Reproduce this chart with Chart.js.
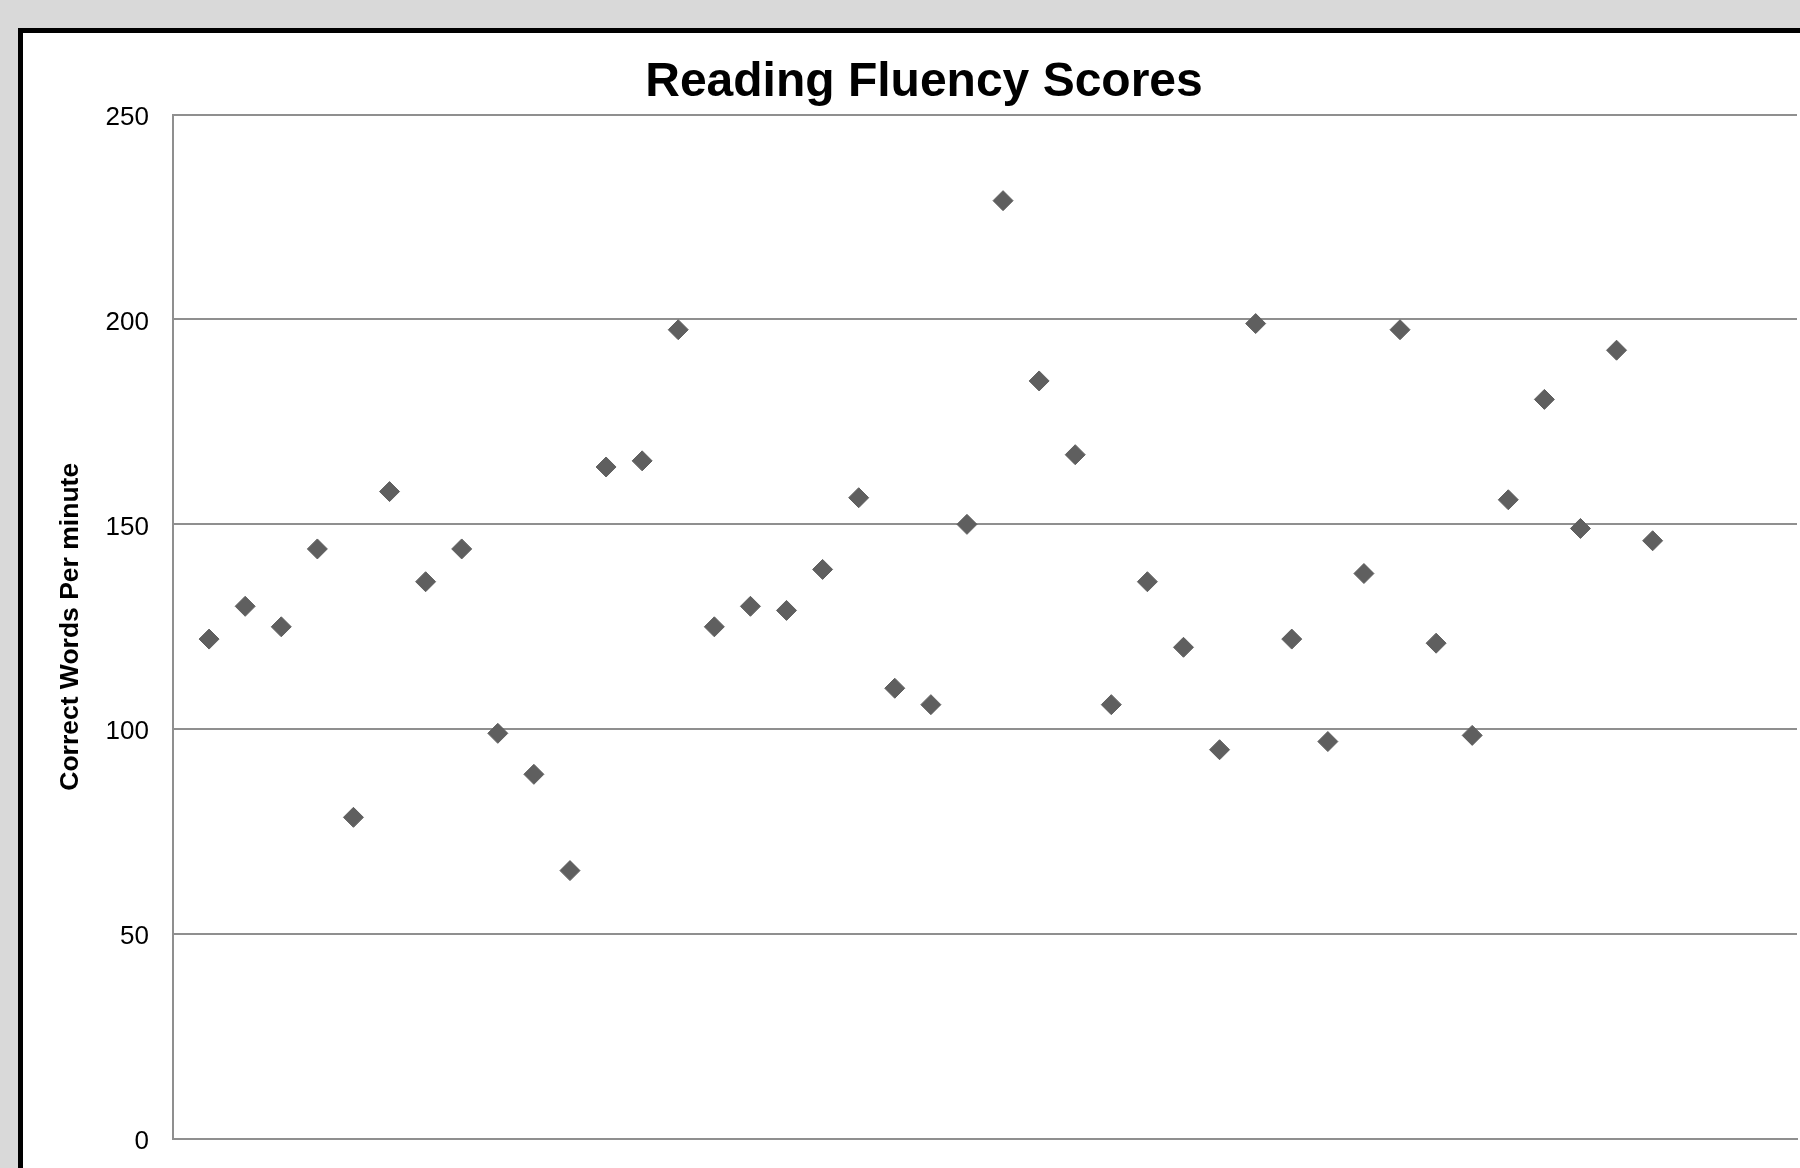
<!DOCTYPE html>
<html>
<head>
<meta charset="utf-8">
<title>Reading Fluency Scores</title>
<script src="https://cdn.jsdelivr.net/npm/chart.js@4/dist/chart.umd.min.js"></script>
<style>
    html, body {
        margin: 0;
        padding: 0;
        width: 1800px;
        height: 1168px;
        overflow: hidden;
        background: #d9d9d9;
    }
    #frame {
        position: absolute;
        left: 18px;
        top: 28px;
        width: 1840px;
        height: 1200px;
        border: 5px solid #000;
        background: #fff;
    }
    #chartBox {
        position: absolute;
        left: 0;
        top: 0;
        width: 1802px;
        height: 1146px;
    }
</style>
</head>
<body>
<div id="frame">
    <div id="chartBox"><canvas id="fluencyChart"></canvas></div>
</div>
<script>
// Student number (x) and correct words per minute (y)
const studentNumbers = [1, 2, 3, 4, 5, 6, 7, 8, 9, 10,
    11, 12, 13, 14, 15, 16, 17, 18, 19, 20,
    21, 22, 23, 24, 25, 26, 27, 28, 29, 30,
    31, 32, 33, 34, 35, 36, 37, 38, 39, 40, 41];
const wordsPerMinute = [122, 130, 125, 144, 78.5, 158, 136, 144, 99, 89,
    65.5, 164, 165.5, 197.5, 125, 130, 129, 139, 156.5, 110,
    106, 150, 229, 185, 167, 106, 136, 120, 95, 199,
    122, 97, 138, 197.5, 121, 98.5, 156, 180.5, 149, 192.5, 146];
const yTicks = [0, 50, 100, 150, 200, 250];

const chartTitle = 'Reading Fluency Scores';
const yAxisTitle = 'Correct Words Per minute';

const FONT = '"Liberation Sans", Arial, sans-serif';
const GRID = '#8f8f8f';
const MARKER = '#5f5f5f';

const points = studentNumbers.map((n, i) => ({ x: n, y: wordsPerMinute[i] }));

new Chart(document.getElementById('fluencyChart'), {
    type: 'scatter',
    data: {
        datasets: [{
            label: 'Scores',
            data: points,
            pointStyle: 'rectRot',
            pointRadius: 10,
            pointBorderWidth: 1,
            backgroundColor: MARKER,
            borderColor: MARKER
        }]
    },
    options: {
        responsive: true,
        maintainAspectRatio: false,
        animation: false,
        layout: { padding: 0 },
        plugins: {
            legend: { display: false },
            tooltip: { enabled: false },
            title: {
                display: true,
                text: chartTitle,
                color: '#000',
                font: { family: FONT, size: 48, weight: 'bold' },
                padding: { top: 21, bottom: 3 }
            }
        },
        scales: {
            x: {
                type: 'linear',
                min: 0,
                max: 45,
                grid: { display: false },
                border: { display: true, color: GRID, width: 2 },
                ticks: { display: false },
                afterFit: s => { s.height = 40; }
            },
            y: {
                type: 'linear',
                position: 'left',
                min: 0,
                max: 250,
                afterBuildTicks: s => { s.ticks = yTicks.map(v => ({ value: v })); },
                grid: { color: GRID, lineWidth: 2, drawTicks: false },
                border: { display: true, color: GRID, width: 2 },
                ticks: {
                    color: '#000',
                    padding: 24,
                    labelOffset: 3,
                    font: { family: FONT, size: 26 }
                },
                title: {
                    display: true,
                    text: yAxisTitle,
                    color: '#000',
                    font: { family: FONT, size: 26.5, weight: 'bold' },
                    padding: { top: 32, bottom: 0 }
                },
                afterFit: s => { s.width = 150; }
            },
            // empty right-hand axis, only keeps the plot area off the right edge
            yRight: {
                type: 'linear',
                position: 'right',
                grid: { display: false },
                border: { display: false },
                ticks: { display: false },
                afterFit: s => { s.width = 28; }
            }
        }
    }
});
</script>
</body>
</html>
